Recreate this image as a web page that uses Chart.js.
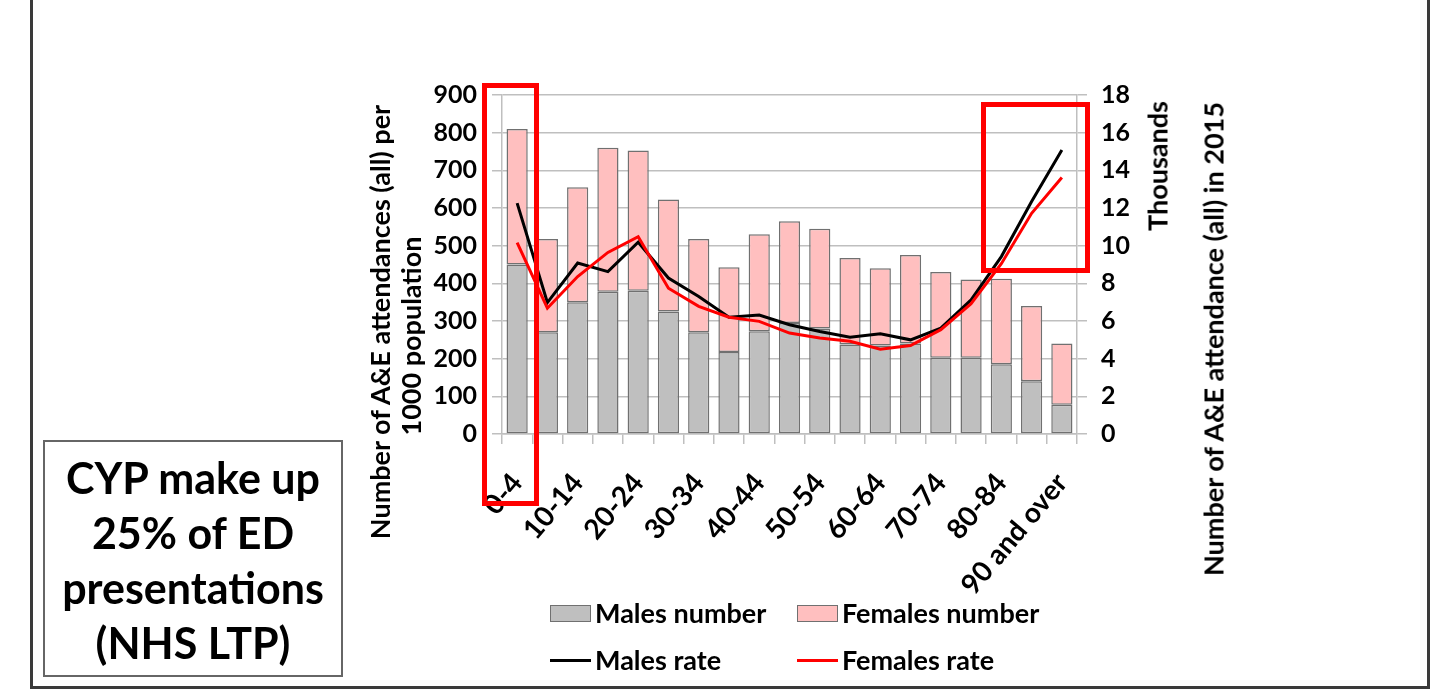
<!DOCTYPE html>
<html><head><meta charset="utf-8">
<script src="https://cdn.jsdelivr.net/npm/chart.js@4.4.0/dist/chart.umd.min.js"></script>
<style>
html,body{margin:0;padding:0;background:#fff;width:1435px;height:689px;overflow:hidden;font-family:Lato,sans-serif;}
#wrap{position:relative;width:1435px;height:689px;}
#c{position:absolute;left:0;top:0;}
.abs{position:absolute;}
.frame{background:#3a3a3a;}
.rot{position:absolute;transform:translate(-50%,-50%) rotate(-90deg);white-space:nowrap;font-weight:bold;font-size:27px;color:#000;}
.redbox{position:absolute;border:5px solid #FF0000;box-sizing:border-box;}
#tbox{position:absolute;left:43px;top:440px;width:300px;height:237px;border:2px solid #666;box-sizing:border-box;text-align:center;font-weight:bold;font-size:43px;line-height:55px;padding-top:8px;color:#000;}
.leg{position:absolute;font-weight:bold;font-size:27px;color:#000;white-space:nowrap;line-height:30px;}
.sw{position:absolute;box-sizing:border-box;}
</style></head>
<body><div id="wrap">
<canvas id="c" width="1435" height="689"></canvas>
<div class="abs frame" style="left:30px;top:0;width:3px;height:689px"></div>
<div class="abs frame" style="left:1427px;top:0;width:3px;height:689px"></div>
<div class="abs frame" style="left:30px;top:686px;width:1400px;height:3px"></div>
<div class="rot" style="left:379px;top:322px">Number of A&amp;E attendances (all) per</div>
<div class="rot" style="left:410px;top:336px">1000 population</div>
<div class="rot" style="left:1157px;top:166px">Thousands</div>
<div class="rot" style="left:1213px;top:339px">Number of A&amp;E attendance (all) in 2015</div>
<div class="redbox" style="left:482px;top:83px;width:57px;height:423px"></div>
<div class="redbox" style="left:981px;top:102px;width:109px;height:171px"></div>
<div id="tbox">CYP make up<br>25% of ED<br>presentations<br>(NHS LTP)</div>
<div id="legend"></div>
</div>
<script>
const categories = ['0-4','5-9','10-14','15-19','20-24','25-29','30-34','35-39','40-44','45-49','50-54','55-59','60-64','65-69','70-74','75-79','80-84','85-89','90 and over'];
// thousands (right axis)
const malesNumber   = [9.0, 5.4, 7.0, 7.55, 7.6, 6.5, 5.4, 4.35, 5.45, 5.9, 5.6, 4.75, 4.7, 4.8, 4.05, 4.05, 3.7, 2.8, 1.55];
const femalesNumber = [7.2, 4.95, 6.1, 7.65, 7.45, 5.95, 4.95, 4.5, 5.15, 5.4, 5.3, 4.6, 4.1, 4.7, 4.55, 4.15, 4.55, 4.0, 3.25];
// per 1000 population (left axis)
const malesRate   = [613, 349, 454, 431, 509, 414, 365, 310, 316, 290, 272, 257, 266, 250, 281, 356, 471, 617, 754];
const femalesRate = [508, 334, 418, 482, 524, 387, 339, 310, 299, 268, 255, 246, 225, 235, 277, 346, 452, 586, 681];
const leftTicks = {min:0, max:900, step:100};
const rightTicks = {min:0, max:18, step:2};

const FONT = {family:'Lato', weight:'bold', size:25};
const XFONT = {family:'Lato', weight:'bold', size:28};
const GRID = '#BFBFBF';

new Chart(document.getElementById('c').getContext('2d'), {
  type:'bar',
  data:{
    labels:categories,
    datasets:[
      {type:'line', label:'Females rate', data:femalesRate, yAxisID:'y', borderColor:'#FF0000', backgroundColor:'#FF0000', borderWidth:3, pointRadius:0, tension:0, fill:false, order:0},
      {type:'line', label:'Males rate', data:malesRate, yAxisID:'y', borderColor:'#000000', backgroundColor:'#000000', borderWidth:3, pointRadius:0, tension:0, fill:false, order:1},
      {type:'bar', label:'Males number', data:malesNumber, yAxisID:'y1', backgroundColor:'#BFBFBF', borderColor:'#707070', borderWidth:1.5, borderSkipped:false, barPercentage:0.7, categoryPercentage:1, order:2},
      {type:'bar', label:'Females number', data:femalesNumber, yAxisID:'y1', backgroundColor:'#FFBFBF', borderColor:'#707070', borderWidth:1.5, borderSkipped:false, barPercentage:0.7, categoryPercentage:1, order:3}
    ]
  },
  options:{
    responsive:false, animation:false, devicePixelRatio:1,
    layout:{padding:{left:362, right:298, top:95, bottom:95}},
    plugins:{legend:{display:false}, tooltip:{enabled:false}},
    scales:{
      x:{stacked:true, offset:true,
         grid:{offset:true, drawOnChartArea:false, tickLength:10, color:GRID, lineWidth:1.5},
         border:{color:GRID, width:1.5},
         ticks:{autoSkip:false, maxRotation:50, minRotation:50, padding:23, font:XFONT, color:'#000',
                callback:(v,i)=> i%2===0 ? categories[i] : ''},
         afterFit:s=>{s.height=160;}},
      y:{position:'left', min:leftTicks.min, max:leftTicks.max,
         ticks:{stepSize:leftTicks.step, padding:15, font:FONT, color:'#000'},
         grid:{color:GRID, lineWidth:1.5, tickLength:10},
         border:{color:GRID, width:1.5},
         afterFit:s=>{s.width=140;}},
      y1:{position:'right', stacked:true, min:rightTicks.min, max:rightTicks.max,
         ticks:{stepSize:rightTicks.step, padding:14, font:FONT, color:'#000'},
         grid:{drawOnChartArea:false, color:GRID, lineWidth:1.5, tickLength:10},
         border:{color:GRID, width:1.5},
         afterFit:s=>{s.width=60;}}
    }
  }
});

// legend
const legendItems = [
  {label:'Males number', kind:'box', color:'#BFBFBF', x:550, y:613},
  {label:'Females number', kind:'box', color:'#FFBFBF', x:797, y:613},
  {label:'Males rate', kind:'line', color:'#000000', x:550, y:660},
  {label:'Females rate', kind:'line', color:'#FF0000', x:797, y:660}
];
const lg = document.getElementById('legend');
legendItems.forEach(it=>{
  const sw = document.createElement('div');
  sw.className='sw';
  if(it.kind==='box'){
    sw.style.cssText=`left:${it.x}px;top:${it.y-8}px;width:41px;height:17px;background:${it.color};border:1.5px solid #707070;`;
  } else {
    sw.style.cssText=`left:${it.x}px;top:${it.y-1.5}px;width:41px;height:3px;background:${it.color};`;
  }
  lg.appendChild(sw);
  const t = document.createElement('div');
  t.className='leg';
  t.textContent=it.label;
  t.style.left=(it.x+45)+'px';
  t.style.top=(it.y-15)+'px';
  lg.appendChild(t);
});
</script>
</body></html>
